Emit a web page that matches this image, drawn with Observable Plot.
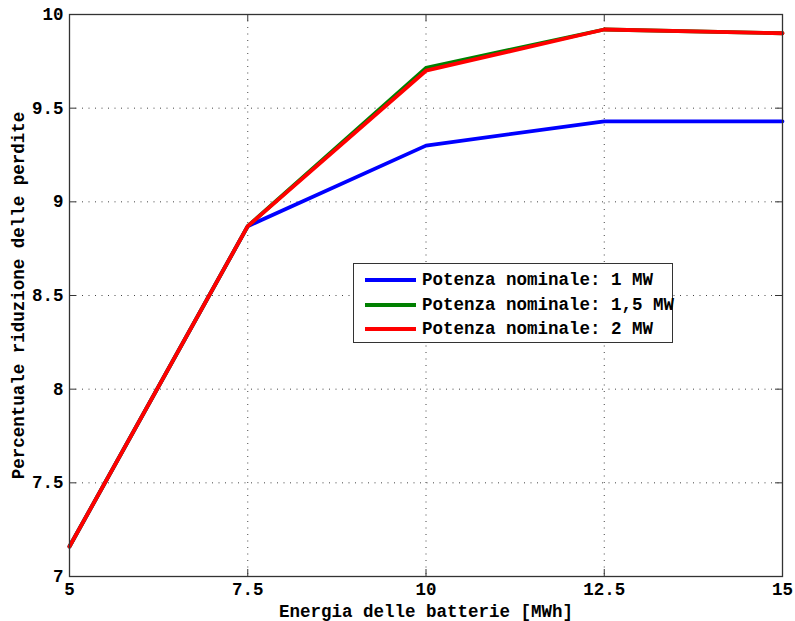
<!DOCTYPE html>
<html>
<head>
<meta charset="utf-8">
<script src="https://cdn.jsdelivr.net/npm/d3@7"></script>
<script src="https://cdn.jsdelivr.net/npm/@observablehq/plot@0.6"></script>
<style>
  html, body { margin: 0; padding: 0; background: #fff; }
  #wrap { position: relative; width: 795px; height: 621px; }
  #legend {
    position: absolute; left: 353px; top: 263px; width: 318px; height: 78px;
    border: 1.5px solid #333; background: #fff; box-sizing: content-box;
    font-family: "Liberation Mono", monospace; font-weight: bold; font-size: 17.5px; color: #000;
  }
  #legend .row { position: absolute; left: 0; height: 20px; display: flex; align-items: center; white-space: nowrap; }
  #legend .sw { display: inline-block; width: 51px; height: 4px; margin-left: 11px; margin-right: 6px; }
</style>
</head>
<body>
<div id="wrap"></div>
<script>
const energy = [5, 7.5, 10, 12.5, 15];
const seriesNames = ["Potenza nominale: 1 MW", "Potenza nominale: 1,5 MW", "Potenza nominale: 2 MW"];
const seriesColors = ["#0000ff", "#008000", "#ff0000"];
const p1 = [7.16, 8.87, 9.30, 9.43, 9.43];
const p15 = [7.16, 8.87, 9.715, 9.92, 9.90];
const p2 = [7.16, 8.87, 9.70, 9.92, 9.90];
const xTicks = [5, 7.5, 10, 12.5, 15];
const yTicks = [7, 7.5, 8, 8.5, 9, 9.5, 10];
const xLabel = "Energia delle batterie [MWh]";
const yLabel = "Percentuale riduzione delle perdite";

const seriesValues = [p1, p15, p2];
const rows = [];
seriesValues.forEach((vals, si) => {
  vals.forEach((v, i) => rows.push({ s: seriesNames[si], x: energy[i], y: v }));
});

const W = 795, H = 621, mT = 14, mB = 45, mL = 69, mR = 13;
const innerH = H - mT - mB, innerW = W - mL - mR;
const tickLen = 7;
const grid = { stroke: "#444", strokeWidth: 1, strokeDasharray: "1,5.5" };

const chart = Plot.plot({
  width: W, height: H,
  marginTop: mT, marginBottom: mB, marginLeft: mL, marginRight: mR,
  style: { fontFamily: "'Liberation Mono', monospace", fontSize: "17.5px", fontWeight: "bold", color: "#000", background: "#fff" },
  x: { domain: [5, 15] },
  y: { domain: [7, 10] },
  color: { domain: seriesNames, range: seriesColors },
  marks: [
    Plot.ruleX(xTicks.slice(1, -1), { x: d => d, ...grid }),
    Plot.ruleY(yTicks.slice(1, -1), { y: d => d, ...grid }),
    Plot.tickX(xTicks, { x: d => d, stroke: "#333", insetTop: innerH - tickLen }),
    Plot.tickX(xTicks, { x: d => d, stroke: "#333", insetBottom: innerH - tickLen }),
    Plot.tickY(yTicks, { y: d => d, stroke: "#333", insetRight: innerW - tickLen }),
    Plot.tickY(yTicks, { y: d => d, stroke: "#333", insetLeft: innerW - tickLen }),
    Plot.axisX({ ticks: xTicks, tickSize: 0, tickPadding: 6, tickFormat: d => String(d),
      label: xLabel, labelAnchor: "center", labelOffset: 40, labelArrow: "none" }),
    Plot.axisY({ ticks: yTicks, tickSize: 0, tickPadding: 6, tickFormat: d => String(d),
      label: yLabel, labelAnchor: "center", labelOffset: 58, labelArrow: "none" }),
    Plot.line(rows, { x: "x", y: "y", z: "s", stroke: "s", strokeWidth: 3.8, strokeLinejoin: "miter" }),
    Plot.frame({ stroke: "#333", strokeWidth: 1.3 })
  ]
});

const wrap = document.getElementById("wrap");
wrap.appendChild(chart);

const legend = document.createElement("div");
legend.id = "legend";
const rowTops = [6, 30.5, 55];
seriesNames.forEach((name, i) => {
  const r = document.createElement("div");
  r.className = "row";
  r.style.top = rowTops[i] + "px";
  const sw = document.createElement("span");
  sw.className = "sw";
  sw.style.background = seriesColors[i];
  const t = document.createElement("span");
  t.textContent = name;
  r.appendChild(sw); r.appendChild(t);
  legend.appendChild(r);
});
wrap.appendChild(legend);
</script>
</body>
</html>
